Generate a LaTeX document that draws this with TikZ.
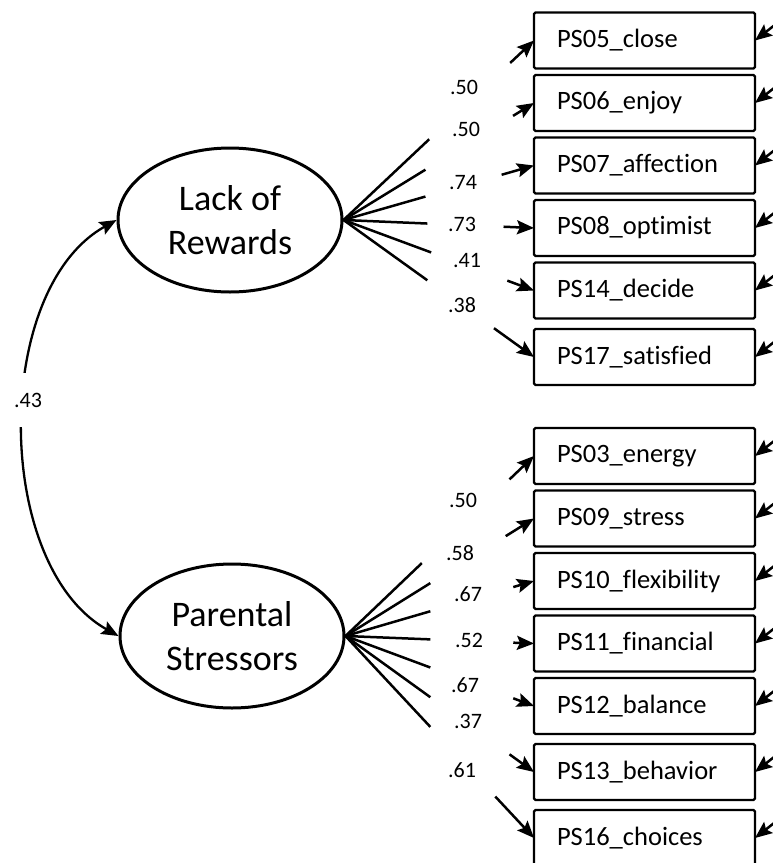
\documentclass[tikz,border=0pt]{standalone}
\usepackage{fontspec}
\setmainfont{Carlito}[Ligatures=NoCommon]
\usetikzlibrary{positioning,calc,shapes.geometric,arrows.meta}

\tikzset{
	latent/.style={draw, ellipse, line width=3pt, minimum width=224pt, minimum height=144pt, inner sep=0pt, align=center, font=\fontsize{36}{44}\selectfont},
	item/.style={draw, rectangle, rounded corners=1.5pt, line width=2.4pt, outer sep=0pt, minimum height=56pt, text width=175pt, inner xsep=23pt, align=left, font=\fontsize{26.5}{30}\selectfont},
	coef/.style={inner sep=1pt, font=\fontsize{22}{24}\selectfont},
	load/.style={line width=2.5pt},
	tip/.style={line width=2.5pt, -{Stealth[length=17pt, width=14pt, inset=3pt]}},
}

\begin{document}
\begin{tikzpicture}[x=1pt, y=-1pt]
	\useasboundingbox (0,0) rectangle (772,863);

	\node[latent] (lr) at (230,220) {Lack of\\Rewards};
	\node[latent] (ps) at (232,636) {Parental\\Stressors};

	\node[item] (r1) at (644.5,40.5) {PS05\_close};
	\node[item, below=6.5pt of r1] (r2) {PS06\_enjoy};
	\node[item, below=6.5pt of r2] (r3) {PS07\_affection};
	\node[item, below=6.5pt of r3] (r4) {PS08\_optimist};
	\node[item, below=6.5pt of r4] (r5) {PS14\_decide};
	\node[item, below=10.5pt of r5] (r6) {PS17\_satisfied};

	\node[item] (s1) at (644.5,456) {PS03\_energy};
	\node[item, below=6.5pt of s1] (s2) {PS09\_stress};
	\node[item, below=6.5pt of s2] (s3) {PS10\_flexibility};
	\node[item, below=6.5pt of s3] (s4) {PS11\_financial};
	\node[item, below=6.5pt of s4] (s5) {PS12\_balance};
	\node[item, below=10pt of s5] (s6) {PS13\_behavior};
	\node[item, below=10pt of s6] (s7) {PS16\_choices};

	\foreach \n/\a/\b in {r1/0.45/0.875, r2/0.43/0.89, r3/0.43/0.83, r4/0.44/0.84, r5/0.46/0.86, r6/0.44/0.79} {
		\draw[load] (lr.east) -- ($(lr.east)!\a!(\n.west)$);
		\draw[tip] ($(lr.east)!\b!(\n.west)$) -- (\n.west);
	}
	\foreach \n/\a/\b in {s1/0.405/0.87, s2/0.45/0.85, s3/0.45/0.89, s4/0.45/0.89, s5/0.45/0.89, s6/0.45/0.87, s7/0.45/0.795} {
		\draw[load] (ps.east) -- ($(ps.east)!\a!(\n.west)$);
		\draw[tip] ($(ps.east)!\b!(\n.west)$) -- (\n.west);
	}

	\foreach \n in {r1,r2,r3,r4,r5,r6,s1,s2,s3,s4,s5,s6,s7} {
		\coordinate (e\n) at ($(\n.east)+(28,-22)$);
		\draw[tip] (e\n) -- (\n.east);
	}

	\node[coef] (l1) at (464,87) {.50};
	\node[coef] (l2) at (466,129) {.50};
	\node[coef] (l3) at (463,183) {.74};
	\node[coef] (l4) at (462,224) {.73};
	\node[coef] (l5) at (467,261) {.41};
	\node[coef] (l6) at (462,305) {.38};

	\node[coef] (m1) at (463,500) {.50};
	\node[coef] (m2) at (460,553) {.58};
	\node[coef] (m3) at (468,594) {.67};
	\node[coef] (m4) at (469,640) {.52};
	\node[coef] (m5) at (465,685) {.67};
	\node[coef] (m6) at (468,721) {.37};
	\node[coef] (m7) at (462,770) {.61};

	\draw[line width=2.3pt, {Stealth[length=17pt, width=14pt, inset=3pt]}-{Stealth[length=17pt, width=14pt, inset=3pt]}] (lr.west) .. controls +(-125,70) and +(-125,-70) .. (ps.west);
	\node[coef, fill=white, inner ysep=20pt] (c) at (28,400) {.43};
\end{tikzpicture}
\end{document}
